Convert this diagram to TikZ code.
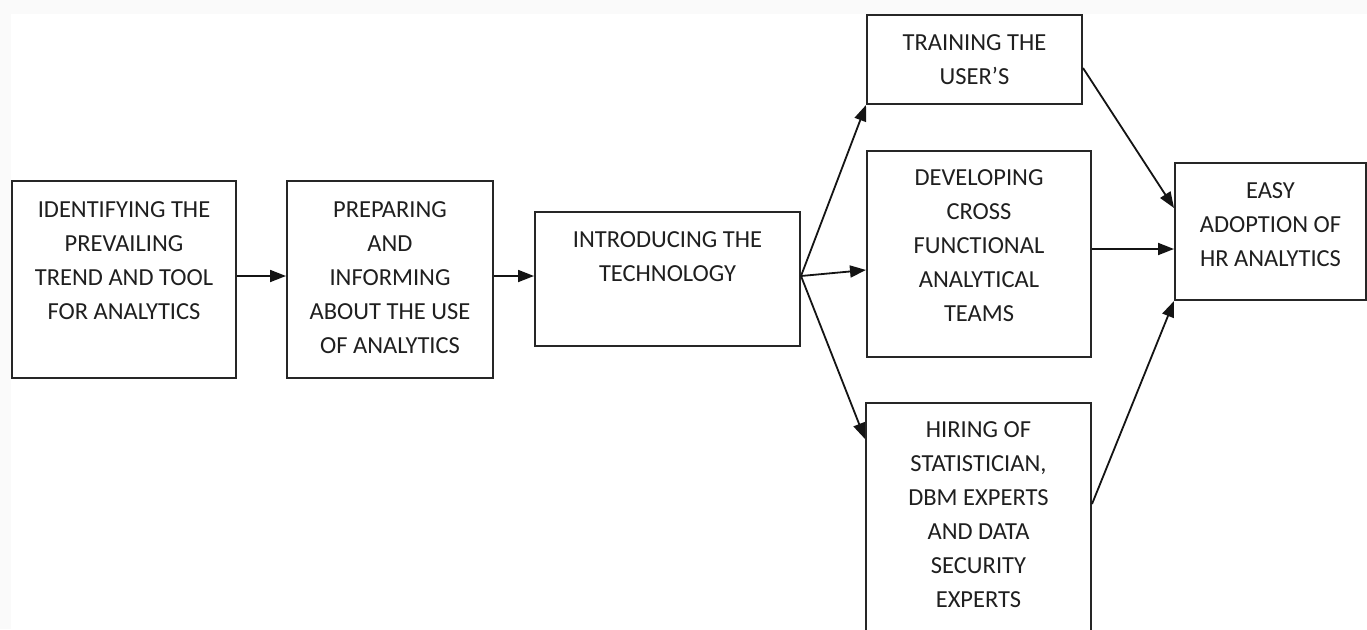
\documentclass[tikz,border=0pt]{standalone}
\usepackage{fontspec}
\setmainfont{Carlito}
\usetikzlibrary{arrows.meta}
\begin{document}
\begin{tikzpicture}[x=1pt,y=-1pt,
  box/.style={draw=black!85, line width=2pt, rectangle, inner sep=0pt},
  txt/.style={inner sep=0pt, align=center, text=black!88, anchor=north,
    font=\fontsize{24.5}{34}\selectfont},
  arr/.style={line width=1.8pt, draw=black!92, -{Triangle[length=16pt,width=12pt]}}]
\useasboundingbox (0,0) rectangle (1367,629);
\fill[black!2] (0,0) rectangle (1367,629);
\fill[white] (11,14) rectangle (1367,629);
% boxes
\node[box, minimum width=224pt, minimum height=197pt] (b1) at (124,279.5) {};
\node[box, minimum width=206pt, minimum height=197pt] (b2) at (390,279.5) {};
\node[box, minimum width=265pt, minimum height=134pt] (b3) at (667.5,279) {};
\node[box, minimum width=215pt, minimum height=89pt] (b4) at (974.5,59.5) {};
\node[box, minimum width=224pt, minimum height=206pt] (b5) at (979,254) {};
\node[box, minimum width=225pt, minimum height=240pt] (b6) at (978.5,523) {};
\node[box, minimum width=191pt, minimum height=137pt] (b7) at (1270.5,231.5) {};
% texts
\node[txt] (t1) at (124,201) {IDENTIFYING THE\\PREVAILING\\TREND AND TOOL\\FOR ANALYTICS};
\node[txt] (t2) at (390,201) {PREPARING\\AND\\INFORMING\\ABOUT THE USE\\OF ANALYTICS};
\node[txt] (t3) at (667.5,231) {INTRODUCING THE\\TECHNOLOGY};
\node[txt] (t4) at (974.5,34) {TRAINING THE\\USER’S};
\node[txt] (t5) at (979,169) {DEVELOPING\\CROSS\\FUNCTIONAL\\ANALYTICAL\\TEAMS};
\node[txt] (t6) at (978.5,421) {HIRING OF\\STATISTICIAN,\\DBM EXPERTS\\AND DATA\\SECURITY\\EXPERTS};
\node[txt] (t7) at (1270.5,182) {EASY\\ADOPTION OF\\HR ANALYTICS};
% connectors
\draw[arr] ([yshift=3.5pt]b1.east) -- ([yshift=3.5pt]b2.west);
\draw[arr] ([yshift=3.5pt]b2.east) -- ([yshift=3pt]b3.west);
\coordinate (fan) at ([yshift=3pt]b3.east);
\draw[arr] (fan) -- (b4.south west);
\draw[arr] (fan) -- ([yshift=-16pt]b5.west);
\draw[arr] (fan) -- ([yshift=-37pt]b6.north west);
\draw[arr] ([yshift=-8.5pt]b4.east) -- ([yshift=23.5pt]b7.west);
\draw[arr] ([yshift=5pt]b5.east) -- ([yshift=-17.5pt]b7.west);
\draw[arr] ([yshift=-102pt]b6.north east) -- (b7.south west);
\end{tikzpicture}
\end{document}
